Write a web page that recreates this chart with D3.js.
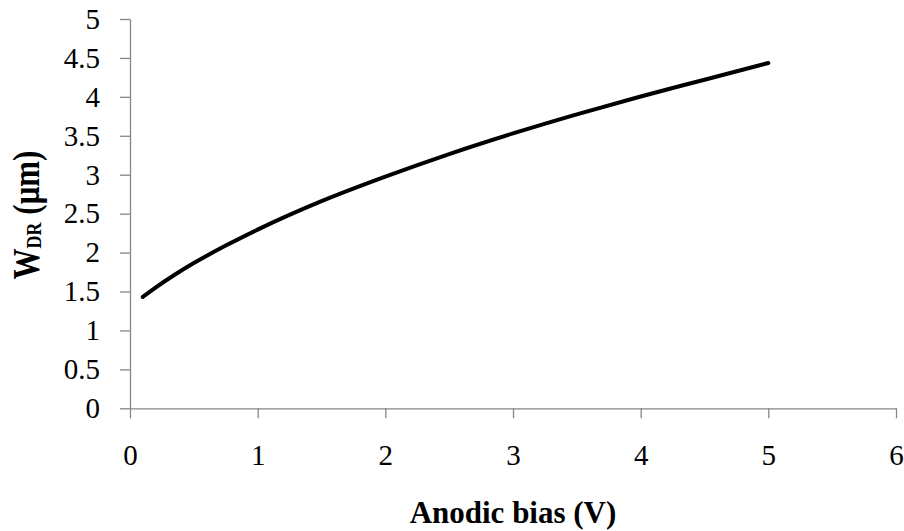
<!DOCTYPE html>
<html>
<head>
<meta charset="utf-8">
<script src="https://cdn.jsdelivr.net/npm/d3@7"></script>
<style>
  html, body { margin: 0; padding: 0; background: #fff; }
  #chart { width: 904px; height: 531px; }
</style>
</head>
<body>
<div id="chart"></div>
<script>
// Depletion width vs anodic bias
const biasV = [0.1, 0.2, 0.35, 0.5, 0.75, 1.0, 1.5, 2.0, 2.5, 3.0, 3.5, 4.0, 4.5, 5.0];
const widthUm = [1.43, 1.55, 1.715, 1.865, 2.09, 2.295, 2.66, 2.975, 3.265, 3.53, 3.775, 4.005, 4.22, 4.435];
const xTicks = [0, 1, 2, 3, 4, 5, 6];
const yTicks = [0, 0.5, 1, 1.5, 2, 2.5, 3, 3.5, 4, 4.5, 5];

const data = biasV.map((v, i) => ({ v: v, w: widthUm[i] }));

const width = 904, height = 531;
const axisColor = "#868686";
const serif = "\"Liberation Serif\"";

const svg = d3.select("#chart")
    .append("svg")
    .attr("width", width)
    .attr("height", height);

// Scales
const x = d3.scaleLinear().domain([0, 6]).range([130, 896]);
const y = d3.scaleLinear().domain([0, 5]).range([408.3, 19]);

// Axes
const xAxis = svg.append("g")
    .attr("transform", `translate(0,${y(0)})`)
    .call(d3.axisBottom(x).tickValues(xTicks).tickSize(10).tickSizeOuter(0).tickPadding(25)
        .tickFormat(d => String(d)));

const yAxis = svg.append("g")
    .attr("transform", `translate(${x(0)},0)`)
    .call(d3.axisLeft(y).tickValues(yTicks).tickSize(10).tickSizeOuter(0).tickPadding(20)
        .tickFormat(d => String(d)));

[xAxis, yAxis].forEach(a => {
    a.select(".domain").attr("stroke", axisColor).attr("stroke-width", 1.3);
    a.selectAll(".tick line").attr("stroke", axisColor).attr("stroke-width", 1.3);
    a.selectAll(".tick text")
        .attr("fill", "#000")
        .style("font-family", serif)
        .style("font-size", "29px");
});
xAxis.selectAll(".tick text").attr("dy", "0.75em");

// Curve
const line = d3.line()
    .x(d => x(d.v))
    .y(d => y(d.w))
    .curve(d3.curveMonotoneX);

svg.append("path")
    .datum(data)
    .attr("fill", "none")
    .attr("stroke", "#000")
    .attr("stroke-width", 4)
    .attr("stroke-linecap", "round")
    .attr("d", line);

// Axis titles
svg.append("text")
    .attr("x", 513)
    .attr("y", 523)
    .attr("text-anchor", "middle")
    .style("font-family", serif)
    .style("font-weight", "bold")
    .style("font-size", "31px")
    .text("Anodic bias (V)");

// y title is drawn a bit taller than wide, as in the source
const yTitle = svg.append("text")
    .attr("transform", "translate(38.5,215) rotate(-90) scale(1,1.2)")
    .attr("text-anchor", "middle")
    .style("font-family", serif)
    .style("font-weight", "bold")
    .style("font-size", "31px");
yTitle.append("tspan").text("W");
yTitle.append("tspan").style("font-size", "18px").attr("dy", 2).text("DR");
yTitle.append("tspan").attr("dy", -2).text(" (μm)");
</script>
</body>
</html>
